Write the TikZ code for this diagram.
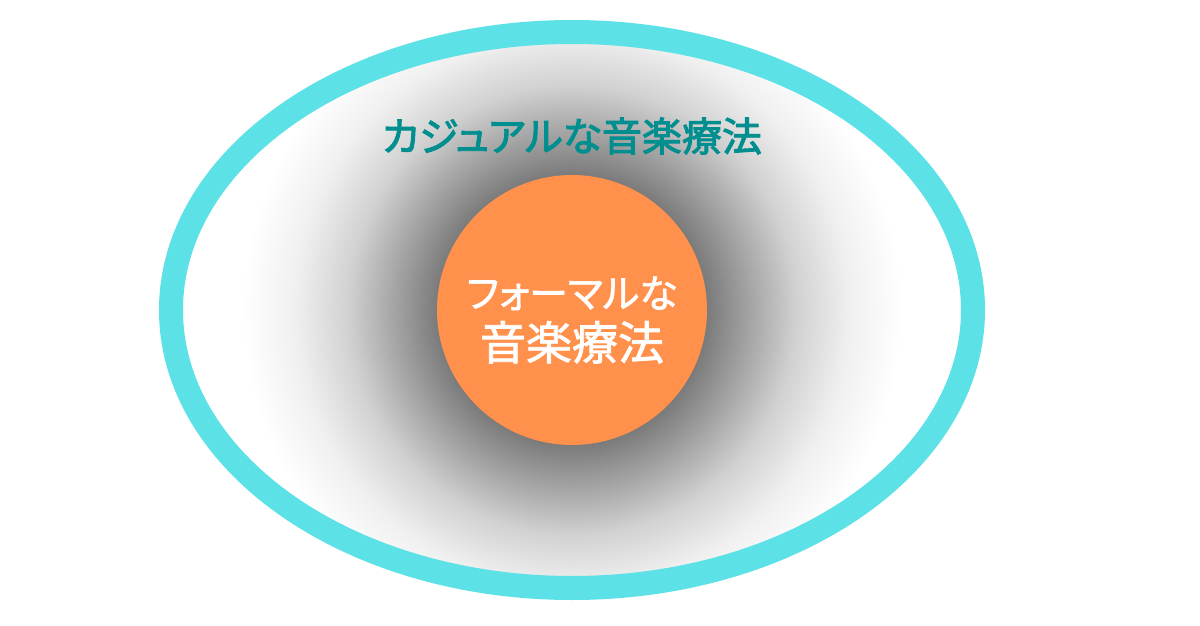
\documentclass[tikz,border=0pt]{standalone}
\usepackage{fontspec}
\newfontfamily\jpfont[RawFeature=+palt,FakeBold=1.6]{Noto Sans CJK JP}
\newfontfamily\jpheavy[RawFeature=+palt,FakeBold=2.4]{Noto Sans CJK JP}
\usetikzlibrary{positioning}
\def \px {1pt}

\definecolor{ringcyan}{HTML}{5CE1E6}
\definecolor{coreorange}{HTML}{FF914D}
\definecolor{casualteal}{HTML}{008E8E}
\pgfdeclareradialshading{glow}{\pgfpointorigin}{color(0bp)=(black!55); color(10bp)=(black!53); color(13bp)=(black!38); color(17bp)=(black!18); color(21bp)=(black!6); color(25bp)=(white); color(50bp)=(white)}

\begin{document}
\begin{tikzpicture}[x=\px,y=-\px,
    ring/.style={draw=ringcyan,line width=24*\px},
    core/.style={circle,fill=coreorange,minimum size=270*\px,inner sep=0pt},
    corelabel/.style={text=white,align=center,font=\jpfont\fontsize{46}{52}\selectfont},
    outerlabel/.style={text=casualteal,font=\jpheavy\fontsize{40}{46}\selectfont}]
    \fill[white] (0,0) rectangle (1200,626);
    % shadow round the core
    \begin{scope}
      \clip (572,310) ellipse [x radius=401, y radius=278];
      \shade[shading=glow] (572,310) circle [radius=330];
    \end{scope}
    \node[core] (formal) at (572,310) {};
    \node[corelabel] (formaltext) at (572,320) {{\fontsize{39}{52}\selectfont フォーマルな}\\音楽療法};
    \node[outerlabel] (casual) at (572,136) {カジュアルな音楽療法};
    \draw[ring] (572,310) ellipse [x radius=401, y radius=278];
\end{tikzpicture}
\end{document}
